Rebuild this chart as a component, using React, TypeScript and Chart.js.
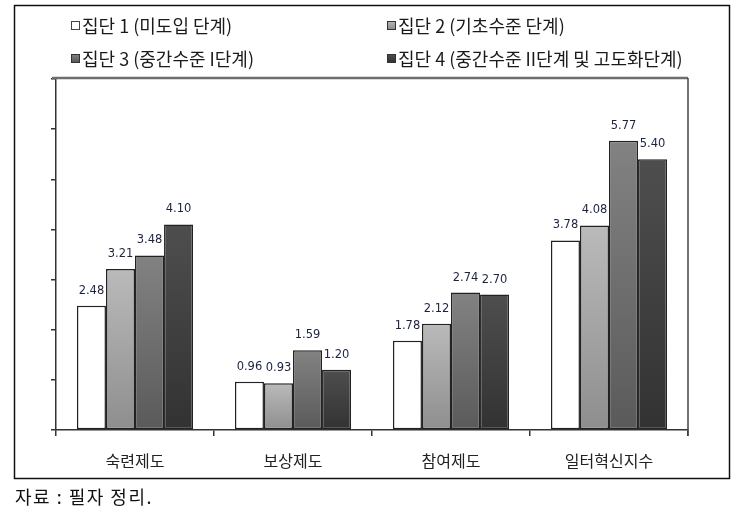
import React, { useEffect, useRef } from "react";
import { Chart, registerables } from "chart.js";

Chart.register(...registerables);

const categories = ["숙련제도", "보상제도", "참여제도", "일터혁신지수"];
const seriesNames = [
  "집단 1 (미도입 단계)",
  "집단 2 (기초수준 단계)",
  "집단 3 (중간수준 I단계)",
  "집단 4 (중간수준 II단계 및 고도화단계)",
];
const group1 = [2.48, 0.96, 1.78, 3.78];
const group2 = [3.21, 0.93, 2.12, 4.08];
const group3 = [3.48, 1.59, 2.74, 5.77];
const group4 = [4.1, 1.2, 2.7, 5.4];
const yTicks = [0, 1, 2, 3, 4, 5, 6, 7];
const caption = "자료 : 필자 정리.";

const KFONT = "'Noto Sans CJK KR', 'Noto Sans', sans-serif";
const gradStops: [string, string][] = [
  ["#ffffff", "#ffffff"],
  ["#bababa", "#8e8e8e"],
  ["#828282", "#5a5a5a"],
  ["#4e4e4e", "#323232"],
];

function barFill(idx: number) {
  return (ctx: any) => {
    const chart = ctx.chart;
    const ys = chart.scales?.y;
    if (!ys || ctx.type !== "data") return gradStops[idx][0];
    const v = ctx.parsed ? ctx.parsed.y : ctx.raw;
    const top = ys.getPixelForValue(v);
    const base = ys.getPixelForValue(0);
    if (!isFinite(top) || !isFinite(base) || top === base) return gradStops[idx][0];
    const g = chart.ctx.createLinearGradient(0, top, 0, base);
    g.addColorStop(0, gradStops[idx][0]);
    g.addColorStop(1, gradStops[idx][1]);
    return g;
  };
}

const decor = {
  id: "decor",
  beforeDraw(chart: any) {
    const c = chart.ctx;
    c.save();
    c.fillStyle = "#ffffff";
    c.fillRect(0, 0, chart.width, chart.height);
    // outer frame
    c.strokeStyle = "#111";
    c.lineWidth = 1.5;
    c.strokeRect(14.5, 5.5, 715, 473);
    // legend
    const pos = [
      [71, 25],
      [387, 25],
      [71, 58],
      [387, 58],
    ];
    c.font = `18px ${KFONT}`;
    c.textBaseline = "middle";
    c.textAlign = "left";
    seriesNames.forEach((name, i) => {
      const [x, y] = pos[i];
      const g = c.createLinearGradient(0, y - 4, 0, y + 4);
      g.addColorStop(0, gradStops[i][0]);
      g.addColorStop(1, gradStops[i][1]);
      c.fillStyle = g;
      c.fillRect(x, y - 4, 8, 8);
      c.strokeStyle = i === 0 ? "#444" : "#333";
      c.lineWidth = 1;
      c.strokeRect(x + 0.5, y - 3.5, 8, 8);
      c.fillStyle = "#1a1a1a";
      c.fillText(name, x + 11, y + 1);
    });
    // caption
    c.font = `18px 'Noto Sans CJK KR', serif`;
    try {
      (c as any).letterSpacing = "1.5px";
    } catch (e) {}
    c.fillStyle = "#111";
    c.fillText(caption, 15, 497);
    try {
      (c as any).letterSpacing = "0px";
    } catch (e) {}
    c.restore();
  },
  afterDraw(chart: any) {
    const c = chart.ctx;
    const a = chart.chartArea;
    c.save();
    // plot area border top + right
    c.strokeStyle = "#6e6e6e";
    c.lineWidth = 2.5;
    c.beginPath();
    c.moveTo(a.left - 4, a.top - 1);
    c.lineTo(a.right, a.top - 1);
    c.stroke();
    c.strokeStyle = "#444";
    c.lineWidth = 1.5;
    c.beginPath();
    c.moveTo(a.right, a.top - 1);
    c.lineTo(a.right, a.bottom + 6);
    c.stroke();
    // data labels
    c.font = `11.5px 'DejaVu Sans', sans-serif`;
    c.fillStyle = "#1c2340";
    c.textAlign = "center";
    c.textBaseline = "middle";
    chart.data.datasets.forEach((ds: any, di: number) => {
      const meta = chart.getDatasetMeta(di);
      meta.data.forEach((el: any, i: number) => {
        c.fillText(Number(ds.data[i]).toFixed(2), el.x, el.y - 15);
      });
    });
    c.restore();
  },
};

export default function App() {
  const ref = useRef<HTMLCanvasElement | null>(null);
  useEffect(() => {
    document.body.style.margin = "0";
    const canvas = ref.current!;
    const series = [group1, group2, group3, group4];
    const chart = new Chart(canvas, {
      type: "bar",
      data: {
        labels: categories,
        datasets: series.map((d, i) => ({
          label: seriesNames[i],
          data: d,
          backgroundColor: barFill(i),
          borderColor: "#222",
          borderWidth: 1.5,
          borderSkipped: false,
          barPercentage: 1,
          categoryPercentage: 0.735,
        })),
      },
      options: {
        animation: false,
        responsive: false,
        devicePixelRatio: 1,
        layout: { padding: { left: 56, right: 55, top: 79, bottom: 0 } },
        plugins: { legend: { display: false }, tooltip: { enabled: false } },
        scales: {
          x: {
            grid: {
              offset: true,
              drawOnChartArea: false,
              drawTicks: true,
              tickLength: 6,
              color: "#333",
              lineWidth: 1.5,
            },
            border: { color: "#333", width: 1.5 },
            ticks: {
              color: "#222",
              padding: 15,
              font: { family: KFONT, size: 16 },
            },
            afterFit: (s: any) => {
              s.height = 83;
            },
          },
          y: {
            min: yTicks[0],
            max: yTicks[yTicks.length - 1],
            afterBuildTicks: (s: any) => {
              s.ticks = yTicks.map((v) => ({ value: v }));
            },
            ticks: { display: false, stepSize: 1 },
            grid: {
              drawOnChartArea: false,
              drawTicks: true,
              tickLength: 5,
              color: "#333",
              lineWidth: 1.5,
            },
            border: { color: "#333", width: 1.5 },
            afterFit: (s: any) => {
              s.width = 0;
            },
          },
        },
      },
      plugins: [decor],
    });
    return () => chart.destroy();
  }, []);
  return (
    <div style={{ position: "absolute", left: 0, top: 0, width: 743, height: 513 }}>
      <canvas ref={ref} width={743} height={513} style={{ width: 743, height: 513 }} />
    </div>
  );
}
